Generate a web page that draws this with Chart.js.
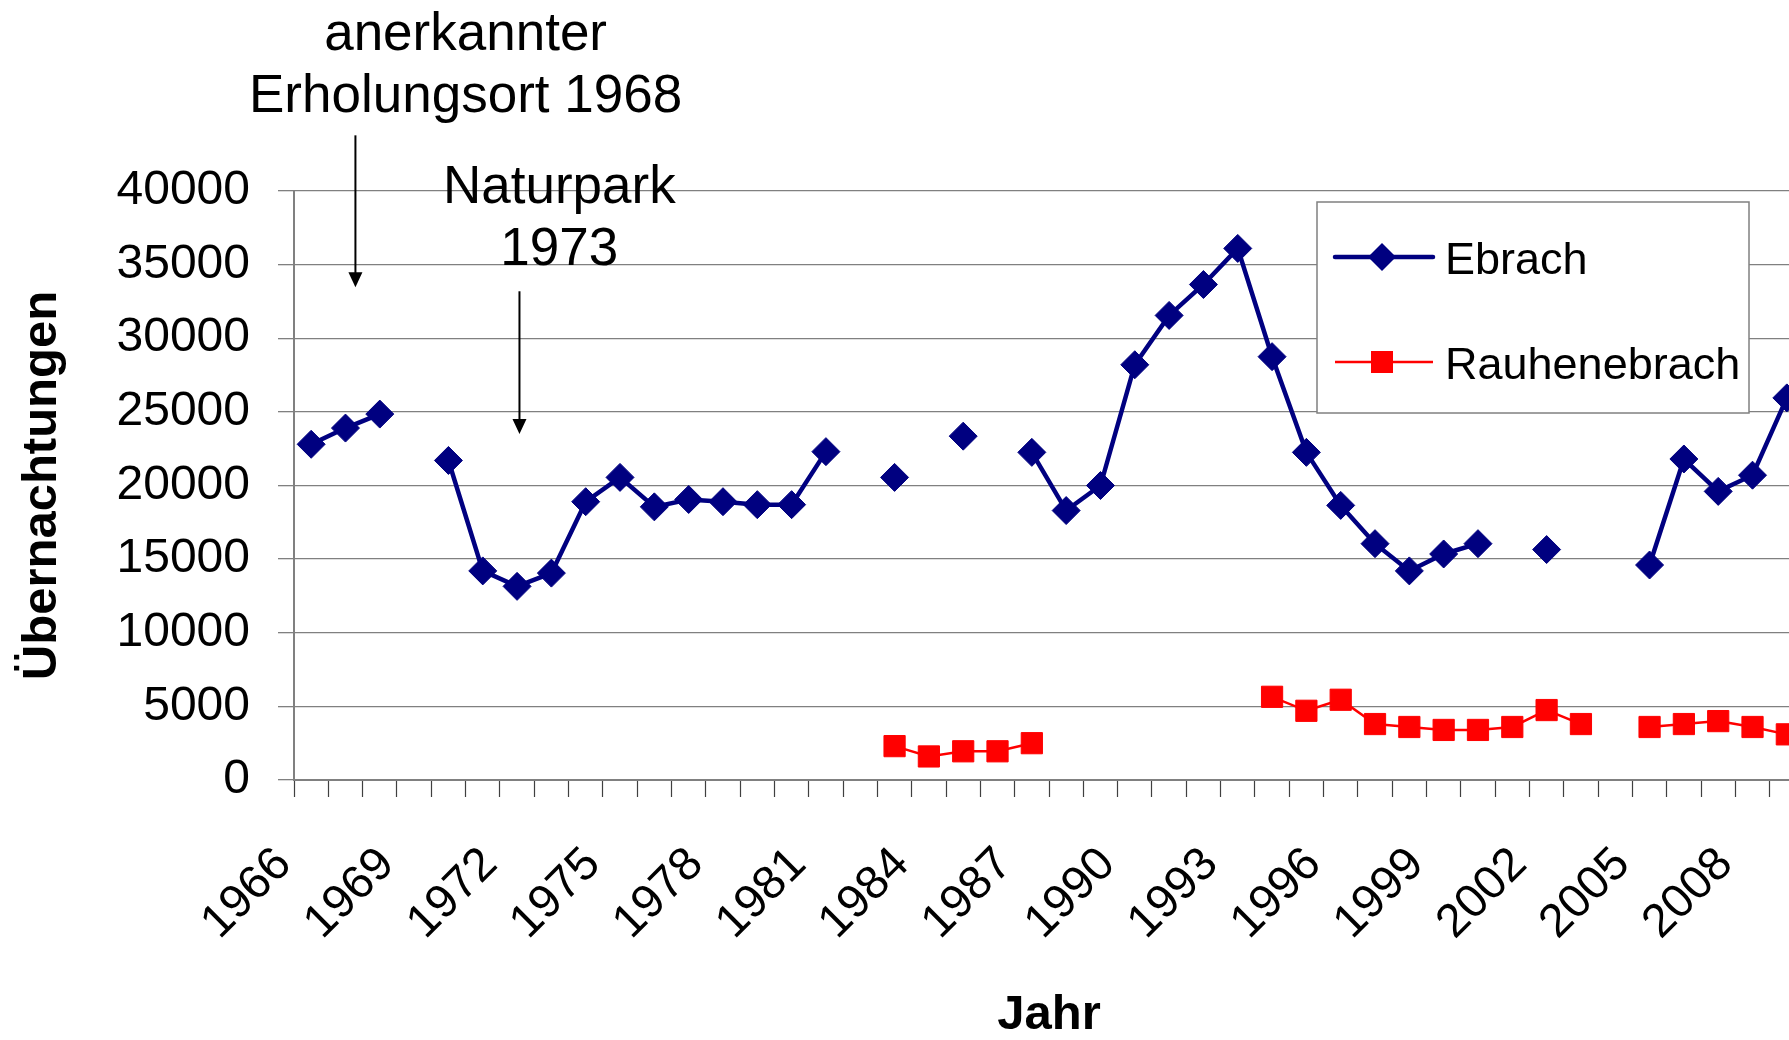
<!DOCTYPE html>
<html>
<head>
<meta charset="utf-8">
<script src="https://cdn.jsdelivr.net/npm/chart.js@4.4.1/dist/chart.umd.min.js"></script>
<style>
  html, body { margin: 0; padding: 0; background: #fff; overflow: hidden; }
  #wrap { width: 1789px; height: 1040px; overflow: hidden; position: relative; }
  canvas { display: block; }
</style>
</head>
<body>
<div id="wrap"><canvas id="chart" width="1820" height="1040"></canvas></div>
<script>
// Overnight stays per year (null = no value reported)
const years = [
  '1966', '1967', '1968', '1969', '1970', '1971', '1972', '1973', '1974', '1975', '1976',
  '1977', '1978', '1979', '1980', '1981', '1982', '1983', '1984', '1985', '1986', '1987',
  '1988', '1989', '1990', '1991', '1992', '1993', '1994', '1995', '1996', '1997', '1998',
  '1999', '2000', '2001', '2002', '2003', '2004', '2005', '2006', '2007', '2008', '2009'
];

const ebrach = [
  22800, 23900, 24850, null, 21700, 14200, 13150, 14050, 18900, 20550, 18550,
  19050, 18900, 18700, 18700, 22300, null, 20550, null, 23350, null, 22250,
  18300, 20000, 28200, 31550, 33650, 36100, 28750, 22250, 18650, 16050, 14200,
  15350, 16050, null, 15650, null, null, 14600, 21800, 19600, 20700, 25950
];

const rauhenebrach = [
  null, null, null, null, null, null, null, null, null, null, null,
  null, null, null, null, null, null, 2300, 1600, 1950, 1950, 2500,
  null, null, null, null, null, null, 5650, 4700, 5450, 3800, 3600,
  3400, 3400, 3600, 4750, 3800, null, 3600, 3800, 4000, 3600, 3100
];

const yTicks = [0, 5000, 10000, 15000, 20000, 25000, 30000, 35000, 40000];

// annotation texts and arrows, in data coordinates (category index, value)
const notes = [
  { text: 'anerkannter', x: 4.5, y: 49550 },
  { text: 'Erholungsort 1968', x: 4.5, y: 45340 },
  { text: 'Naturpark', x: 7.23, y: 39170 },
  { text: '1973', x: 7.23, y: 34960 }
];
const arrows = [
  { x: 1.29, from: 43780, to: 33460 },
  { x: 6.07, from: 33190, to: 23490 }
];

const FONT = '"Liberation Sans", Arial, sans-serif';
const NAVY = '#000080';
const RED = '#ff0000';

const annotate = {
  id: 'annotate',
  afterDatasetsDraw(chart) {
    const { ctx, scales: { x, y } } = chart;
    ctx.save();
    ctx.fillStyle = '#000';
    ctx.strokeStyle = '#000';
    ctx.font = '53px ' + FONT;
    ctx.textAlign = 'center';
    ctx.textBaseline = 'alphabetic';
    notes.forEach(n => {
      ctx.fillText(n.text, x.getPixelForValue(n.x), y.getPixelForValue(n.y));
    });
    arrows.forEach(a => {
      const px = x.getPixelForValue(a.x);
      const top = y.getPixelForValue(a.from);
      const tip = y.getPixelForValue(a.to);
      ctx.lineWidth = 2;
      ctx.beginPath();
      ctx.moveTo(px, top);
      ctx.lineTo(px, tip - 12);
      ctx.stroke();
      ctx.beginPath();
      ctx.moveTo(px - 7, tip - 15);
      ctx.lineTo(px + 7, tip - 15);
      ctx.lineTo(px, tip);
      ctx.closePath();
      ctx.fill();
    });
    ctx.restore();
  }
};

const legendBox = {
  id: 'legendBox',
  beforeDatasetsDraw(chart) {
    const ctx = chart.ctx;
    ctx.save();
    ctx.fillStyle = '#fff';
    ctx.fillRect(1317, 202, 432, 211);
    ctx.strokeStyle = '#808080';
    ctx.lineWidth = 1.5;
    ctx.strokeRect(1317, 202, 432, 211);

    // Ebrach
    ctx.strokeStyle = NAVY;
    ctx.lineWidth = 4.5;
    ctx.lineCap = 'round';
    ctx.beginPath();
    ctx.moveTo(1335, 257);
    ctx.lineTo(1433, 257);
    ctx.stroke();
    ctx.fillStyle = NAVY;
    ctx.beginPath();
    ctx.moveTo(1382 - 14, 257);
    ctx.lineTo(1382, 257 - 14);
    ctx.lineTo(1382 + 14, 257);
    ctx.lineTo(1382, 257 + 14);
    ctx.closePath();
    ctx.fill();

    // Rauhenebrach
    ctx.strokeStyle = RED;
    ctx.lineWidth = 2.5;
    ctx.lineCap = 'butt';
    ctx.beginPath();
    ctx.moveTo(1335, 362);
    ctx.lineTo(1433, 362);
    ctx.stroke();
    ctx.fillStyle = RED;
    ctx.fillRect(1371, 351, 22, 22);

    ctx.fillStyle = '#000';
    ctx.font = '45px ' + FONT;
    ctx.textAlign = 'left';
    ctx.textBaseline = 'middle';
    ctx.fillText(chart.data.datasets[0].label, 1445, 262);
    ctx.fillText(chart.data.datasets[1].label, 1445, 367);
    ctx.restore();
  }
};

new Chart(document.getElementById('chart'), {
  type: 'line',
  data: {
    labels: years,
    datasets: [
      {
        label: 'Ebrach',
        data: ebrach,
        borderColor: NAVY,
        backgroundColor: NAVY,
        borderWidth: 4.5,
        pointStyle: 'rectRot',
        pointRadius: 14,
        pointBorderWidth: 1,
        pointBackgroundColor: NAVY,
        pointBorderColor: NAVY,
        tension: 0,
        spanGaps: false
      },
      {
        label: 'Rauhenebrach',
        data: rauhenebrach,
        borderColor: RED,
        backgroundColor: RED,
        borderWidth: 2.5,
        pointStyle: 'rect',
        pointRadius: 15,
        pointBorderWidth: 1,
        pointBackgroundColor: RED,
        pointBorderColor: RED,
        tension: 0,
        spanGaps: false
      }
    ]
  },
  options: {
    responsive: false,
    animation: false,
    layout: { padding: { top: 191, left: 0, right: 1, bottom: 0 } },
    plugins: {
      legend: { display: false },
      tooltip: { enabled: false }
    },
    scales: {
      x: {
        type: 'category',
        offset: true,
        grid: {
          offset: true,
          drawOnChartArea: false,
          tickLength: 17,
          tickColor: '#404040',
          tickWidth: 1.2
        },
        border: { color: '#808080', width: 2 },
        ticks: {
          autoSkip: false,
          minRotation: 45,
          maxRotation: 45,
          padding: 40,
          labelOffset: -27,
          color: '#000',
          font: { family: FONT, size: 47 },
          callback: function(value, index) {
            return index % 3 === 0 ? years[index] : '';
          }
        },
        title: {
          display: true,
          text: 'Jahr',
          color: '#000',
          font: { family: FONT, size: 49, weight: 'bold', lineHeight: 1 },
          padding: { top: 0, bottom: 0 }
        },
        afterFit: s => {
          s.height = 260;
          s.paddingLeft = 0;
          s.paddingRight = 0;
        }
      },
      y: {
        min: 0,
        max: 40000,
        grid: {
          color: '#808080',
          lineWidth: 1.3,
          tickLength: 16
        },
        border: { color: '#808080', width: 2 },
        ticks: {
          padding: 28,
          color: '#000',
          font: { family: FONT, size: 48 },
          callback: v => String(v)
        },
        afterBuildTicks: s => { s.ticks = yTicks.map(v => ({ value: v })); },
        title: {
          display: true,
          text: 'Übernachtungen',
          color: '#000',
          font: { family: FONT, size: 49, weight: 'bold', lineHeight: 1 },
          padding: { top: 18, bottom: 0 }
        },
        afterFit: s => { s.width = 294; }
      }
    }
  },
  plugins: [legendBox, annotate]
});
</script>
</body>
</html>
